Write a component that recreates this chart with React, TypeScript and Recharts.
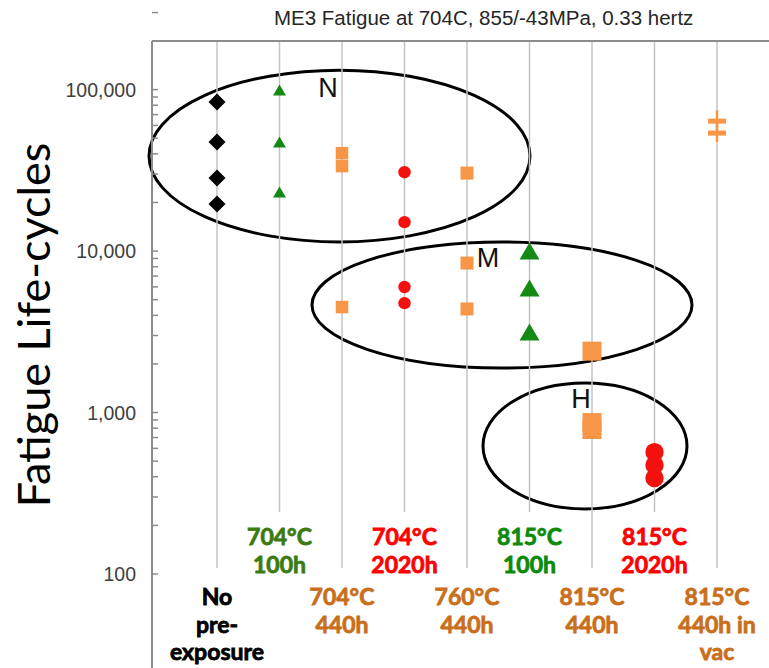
import {
  ReferenceArea,
  ReferenceDot,
  ReferenceLine,
  Scatter,
  ScatterChart,
  XAxis,
  YAxis,
} from 'recharts';

const categoryLabels = [
  ['No', 'pre-', 'exposure'],
  ['704°C', '100h'],
  ['704°C', '440h'],
  ['704°C', '2020h'],
  ['760°C', '440h'],
  ['815°C', '100h'],
  ['815°C', '440h'],
  ['815°C', '2020h'],
  ['815°C', '440h in', 'vac'],
];

const labelColors = [
  '#000000',
  '#3b7b12',
  '#c96f1c',
  '#ff0000',
  '#c96f1c',
  '#0b8a0b',
  '#c96f1c',
  '#ff0000',
  '#c96f1c',
];

// fatigue life (cycles) per exposure condition
const noPreExposure = [83700, 47300, 28300, 19550];
const exp704_100h = [99300, 47300, 23200];
const exp704_440h = [40400, 33600, 4500];
const exp704_2020h = [30800, 15100, 5990, 4760];
const exp760_440h = [30400, 8430, 4380];
const exp815_100h = [10000, 5900, 3150];
const exp815_440h = [2400, 867, 785];
const exp815_2020h = [569, 473, 393];
const exp815_440hVac = [63800, 53800];

const majorTicks = [100, 1000, 10000, 100000];
const yTicks = majorTicks.flatMap((m) => [1, 2, 3, 4, 5, 6, 7, 8, 9].map((k) => k * m));
const xTicks = [0, 1, 2, 3, 4, 5, 6, 7, 8];

// N / M / H groupings (ellipse bounds in data units)
const groupNames = ['N', 'M', 'H'];
const groupX = [[-1.088, 5.008], [1.52, 7.6], [4.256, 7.52]];
const groupY = [[132000, 11400], [11400, 1886], [1524, 253]];
const groupLabelX = [1.776, 4.336, 5.824];
const groupLabelY = [103600, 9190, 1230];

const X_MIN = -1.04;
const X_MAX = 8.832;
const Y_MIN = 100;
const Y_MAX = 200000;

const ORANGE = '#f79646';
const GREEN = '#148a14';
const RED = '#f51010';
const GRID = '#c4c4c4';
const AXIS = '#8c8c8c';

const pts = (x: number, values: number[]) => values.map((y) => ({ x, y }));

const diamond = (s: number, color: string) => (p: any) => (
  <path
    d={`M${p.cx},${p.cy - s}L${p.cx + s},${p.cy}L${p.cx},${p.cy + s}L${p.cx - s},${p.cy}Z`}
    fill={color}
  />
);

const triangle = (w: number, h: number, color: string) => (p: any) => (
  <path
    d={`M${p.cx},${p.cy - h / 2}L${p.cx + w / 2},${p.cy + h / 2}L${p.cx - w / 2},${p.cy + h / 2}Z`}
    fill={color}
  />
);

const square = (s: number, color: string) => (p: any) => (
  <rect x={p.cx - s / 2} y={p.cy - s / 2} width={s} height={s} fill={color} />
);

const circle = (r: number, color: string) => (p: any) => (
  <circle cx={p.cx} cy={p.cy} r={r} fill={color} />
);

const dash = (color: string) => (p: any) => (
  <g>
    <line x1={p.cx} x2={p.cx} y1={p.cy - 11} y2={p.cy + 9} stroke={color} strokeWidth={2.5} />
    <rect x={p.cx - 9} y={p.cy - 2.5} width={18} height={5} fill={color} />
  </g>
);

const YTick = (props: any) => {
  const { x, y, payload } = props;
  const v = payload.value;
  const major = majorTicks.includes(v);
  return (
    <g>
      <line x1={x} x2={x + 6} y1={y} y2={y} stroke={AXIS} strokeWidth={1.5} />
      {major && (
        <text
          x={x - 16}
          y={y}
          dy="0.36em"
          textAnchor="end"
          fill="#404040"
          fontFamily="Liberation Sans, Arial, sans-serif"
          fontSize={19.5}
        >
          {v.toLocaleString('en-US')}
        </text>
      )}
    </g>
  );
};

const LINE_GAP = 27.7;

const XTick = (props: any) => {
  const { x, y, payload } = props;
  const i = payload.value;
  const top = i % 2 === 1 ? y - 29 : y + 31;
  return (
    <g>
      {categoryLabels[i].map((line, k) => (
        <text
          key={k}
          x={x}
          y={top + k * LINE_GAP}
          textAnchor="middle"
          fill={labelColors[i]}
          stroke={labelColors[i]}
          strokeWidth={0.8}
          fontFamily="Lato, sans-serif"
          fontWeight={700}
          fontSize={23}
        >
          {line}
        </text>
      ))}
    </g>
  );
};

const ellipseShape = (p: any) => (
  <ellipse
    cx={p.x + p.width / 2}
    cy={p.y + p.height / 2}
    rx={Math.abs(p.width) / 2}
    ry={Math.abs(p.height) / 2}
    fill="none"
    stroke="#000"
    strokeWidth={3}
  />
);

export default function App() {
  return (
    <div style={{ position: 'absolute', left: 0, top: 0, width: 769, height: 668, background: '#fff' }}>
      <div
        style={{
          position: 'absolute',
          left: 274,
          top: 6,
          width: 400,
          textAlign: 'center',
          fontFamily: 'Liberation Sans, Arial, sans-serif',
          fontSize: 20.5,
          color: '#262626',
          whiteSpace: 'nowrap',
        }}
      >
        ME3 Fatigue at 704C, 855/-43MPa, 0.33 hertz
      </div>
      <svg style={{ position: 'absolute', left: 0, top: 0 }} width={100} height={668}>
        <text
          transform="translate(50,325) rotate(-90)"
          textAnchor="middle"
          fontFamily="Lato, sans-serif"
          fontSize={45}
          fill="#000"
        >
          Fatigue Life-cycles
        </text>
      </svg>
      <ScatterChart
        width={769}
        height={668}
        margin={{ top: 41, right: 0, bottom: 0, left: 0 }}
        style={{ position: 'absolute', left: 0, top: 0 }}
      >
        <XAxis
          type="number"
          dataKey="x"
          domain={[X_MIN, X_MAX]}
          ticks={xTicks}
          interval={0}
          allowDataOverflow
          height={94}
          axisLine={false}
          tickLine={false}
          tickSize={0}
          tickMargin={0}
          tick={<XTick />}
        />
        <YAxis
          type="number"
          dataKey="y"
          scale="log"
          domain={[Y_MIN, Y_MAX]}
          ticks={yTicks}
          interval={0}
          allowDataOverflow
          width={152}
          axisLine={{ stroke: AXIS, strokeWidth: 2 }}
          tickLine={false}
          tickSize={0}
          tickMargin={0}
          tick={<YTick />}
        />
        {xTicks.map((i) => (
          <ReferenceLine
            key={`g${i}`}
            segment={[
              { x: i, y: Y_MAX },
              { x: i, y: i % 2 === 1 ? 242 : 109 },
            ]}
            stroke={GRID}
            strokeWidth={1.5}
          />
        ))}
        <ReferenceLine y={Y_MAX} stroke={AXIS} strokeWidth={2} />
        <ReferenceLine
          segment={[
            { x: X_MIN, y: Y_MIN },
            { x: X_MIN, y: 26 },
          ]}
          ifOverflow="visible"
          stroke={AXIS}
          strokeWidth={2}
        />
        {groupNames.map((g, k) => (
          <ReferenceArea
            key={`e${g}`}
            x1={groupX[k][0]}
            x2={groupX[k][1]}
            y1={groupY[k][0]}
            y2={groupY[k][1]}
            ifOverflow="visible"
            shape={ellipseShape}
          />
        ))}
        {groupNames.map((g, k) => (
          <ReferenceDot
            key={`l${g}`}
            x={groupLabelX[k]}
            y={groupLabelY[k]}
            ifOverflow="visible"
            shape={(p: any) => (
              <text
                x={p.cx}
                y={p.cy}
                dy="0.36em"
                textAnchor="middle"
                fontFamily="Liberation Sans, Arial, sans-serif"
                fontSize={27}
                fill="#111"
              >
                {g}
              </text>
            )}
          />
        ))}
        <Scatter data={pts(0, noPreExposure)} shape={diamond(8.5, '#000')} isAnimationActive={false} />
        <Scatter data={pts(1, exp704_100h)} shape={triangle(13, 11, GREEN)} isAnimationActive={false} />
        <Scatter data={pts(2, exp704_440h)} shape={square(12.5, ORANGE)} isAnimationActive={false} />
        <Scatter data={pts(3, exp704_2020h)} shape={circle(6.2, RED)} isAnimationActive={false} />
        <Scatter data={pts(4, exp760_440h)} shape={square(13, ORANGE)} isAnimationActive={false} />
        <Scatter data={pts(5, exp815_100h)} shape={triangle(20, 17, GREEN)} isAnimationActive={false} />
        <Scatter data={pts(6, exp815_440h)} shape={square(19, ORANGE)} isAnimationActive={false} />
        <Scatter data={pts(7, exp815_2020h)} shape={circle(9.2, RED)} isAnimationActive={false} />
        <Scatter data={pts(8, exp815_440hVac)} shape={dash(ORANGE)} isAnimationActive={false} />
      </ScatterChart>
    </div>
  );
}
